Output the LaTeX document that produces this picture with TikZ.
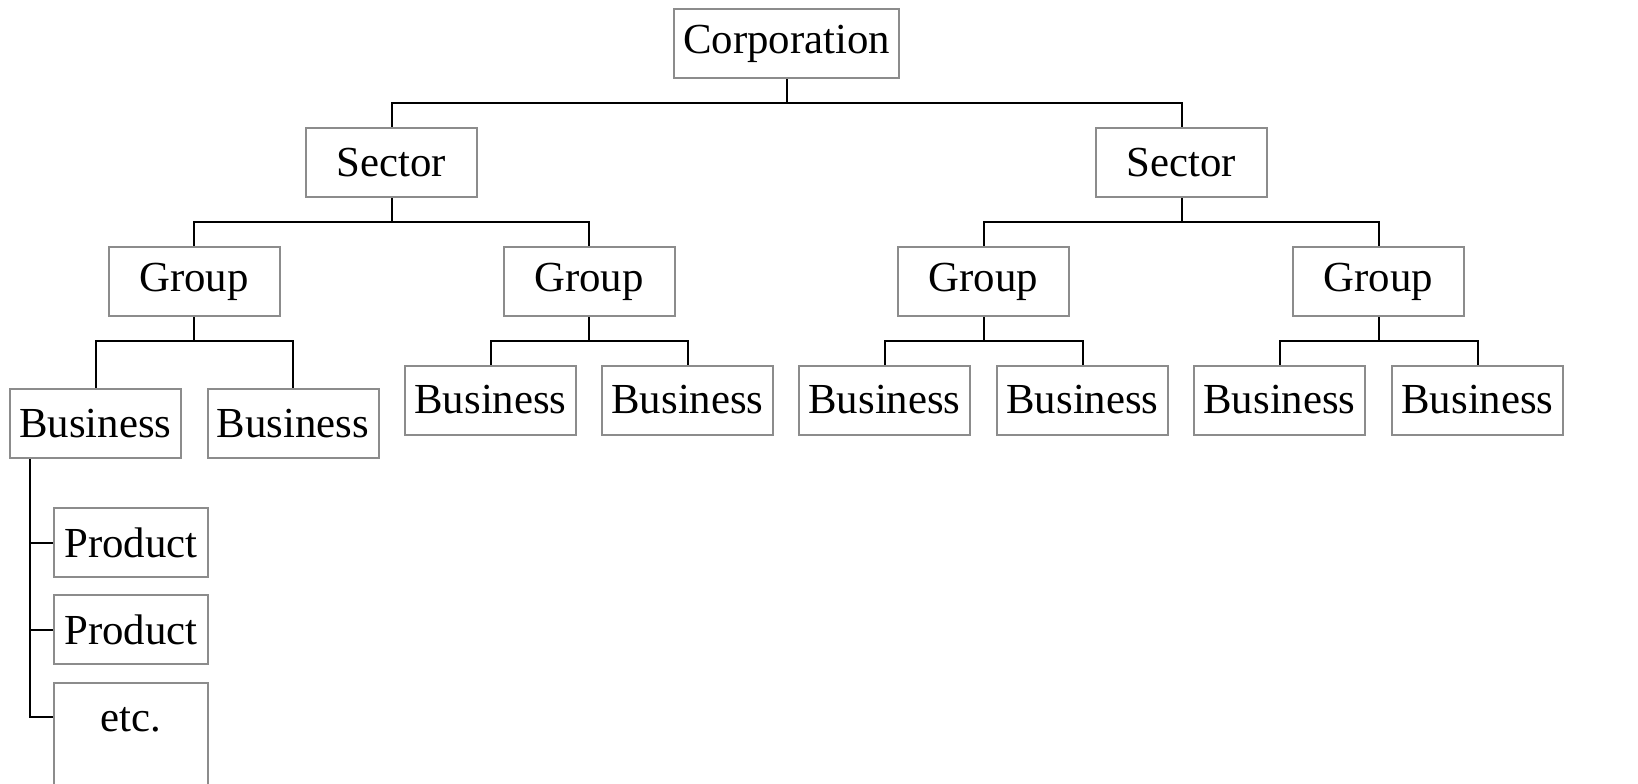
\documentclass[tikz,border=0pt]{standalone}
\usepackage{fontspec}
\setmainfont{Liberation Serif}
\usetikzlibrary{positioning}

\begin{document}
\begin{tikzpicture}[x=0.5pt, y=-0.5pt,
        every node/.style={font=\fontsize{21.4pt}{25pt}\selectfont},
        unit/.style={draw=gray!90, line width=1pt, rectangle, inner sep=0pt,
                     minimum width=85.5pt, minimum height=34.5pt},
        prod/.style={unit, minimum width=77pt},
        link/.style={line width=1pt, black}]
                \useasboundingbox (0,0) rectangle (1638,783);
                % top level
                \node [unit, minimum width=112.5pt] (corp) at (786.5,43.5) {Corporation};
                \node [unit] (secA) at (391.5,162.5) {Sector};
                \node [unit] (secB) at (1181.5,162.5) {Sector};
                % groups
                \node [unit] (grpA) at (194,281.5) {Group};
                \node [unit] (grpB) at (589,281.5) {Group};
                \node [unit] (grpC) at (983.5,281.5) {Group};
                \node [unit] (grpD) at (1378.5,281.5) {Group};
                % businesses
                \node [unit] (bizA) at (95.5,423.5) {Business};
                \node [unit] (bizB) at (293,423.5) {Business};
                \node [unit] (bizC) at (490.5,400) {Business};
                \node [unit] (bizD) at (687.5,400) {Business};
                \node [unit] (bizE) at (884.5,400) {Business};
                \node [unit] (bizF) at (1082.5,400) {Business};
                \node [unit] (bizG) at (1279.5,400) {Business};
                \node [unit] (bizH) at (1477.5,400) {Business};
                % products
                \node [prod] (prodA) at (131,542.5) {Product};
                \node [prod] (prodB) at (131,629.5) {Product};
                \node [prod, anchor=north, text height=24pt, text depth=30pt] (etc) at (131,682) {etc.};
                % links
                \draw [link] (corp.south) -- ++(0,-12pt) -| (secA.north);
                \draw [link] (corp.south) -- ++(0,-12pt) -| (secB.north);
                \foreach \s/\a/\b in {secA/grpA/grpB, secB/grpC/grpD, grpA/bizA/bizB,
                                      grpB/bizC/bizD, grpC/bizE/bizF, grpD/bizG/bizH} {
                    \draw [link] (\s.south) -- ++(0,-12pt) -| (\a.north);
                    \draw [link] (\s.south) -- ++(0,-12pt) -| (\b.north);
                }
                \coordinate (trunk) at ([xshift=10.5pt]bizA.south west);
                \draw [link] (trunk) |- (prodA.west);
                \draw [link] (trunk) |- (prodB.west);
                \draw [link] (trunk) |- ([yshift=-17.5pt]etc.north west);
            \end{tikzpicture}
\end{document}
